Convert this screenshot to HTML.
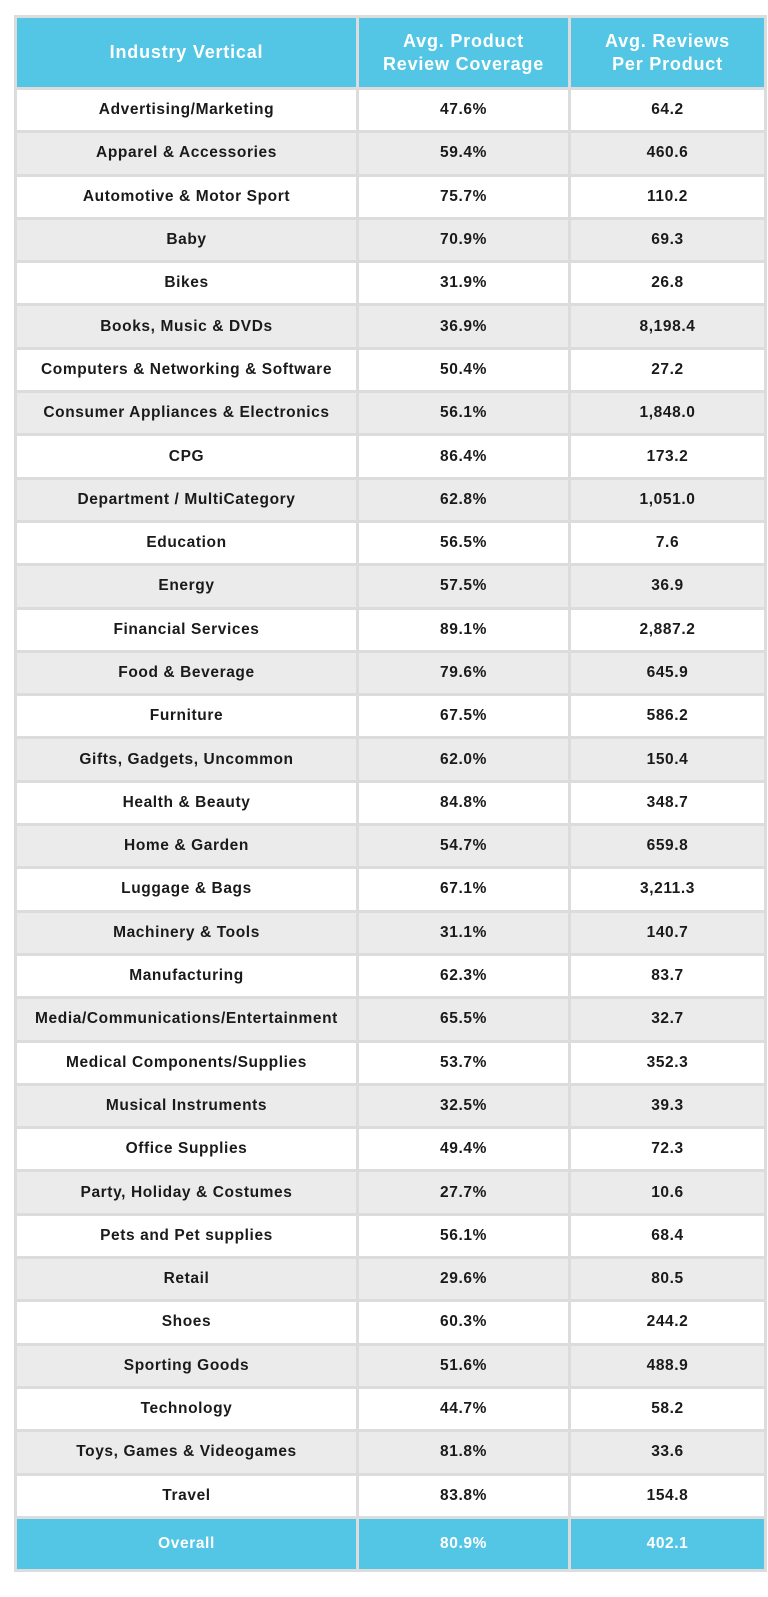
<!DOCTYPE html>
<html><head><meta charset="utf-8"><style>
html,body{margin:0;padding:0;background:#fff;width:768px;height:1597px;overflow:hidden}
table{position:absolute;left:14px;top:15px;width:750px;border-collapse:collapse;table-layout:fixed;font-family:"Liberation Sans",sans-serif}
td,th{border:3px solid #dcdcdc;text-align:center;padding:0;font-weight:bold;font-size:15.5px;letter-spacing:0.6px;color:#1a1a1a}
th{background:#53c6e6;color:#fff;font-size:18px;letter-spacing:0.8px;height:69px;line-height:23px}
tr.r td{height:40.3px}
tr:nth-child(odd).r td{background:#ebebeb}
tr.f td{background:#53c6e6;color:#fff;height:50px}
</style></head><body>
<table>
<colgroup><col style="width:342px"><col style="width:212px"><col style="width:196px"></colgroup>
<tr><th>Industry Vertical</th><th>Avg. Product<br>Review Coverage</th><th>Avg. Reviews<br>Per Product</th></tr>
<tr class="r"><td>Advertising/Marketing</td><td>47.6%</td><td>64.2</td></tr>
<tr class="r"><td>Apparel &amp; Accessories</td><td>59.4%</td><td>460.6</td></tr>
<tr class="r"><td>Automotive &amp; Motor Sport</td><td>75.7%</td><td>110.2</td></tr>
<tr class="r"><td>Baby</td><td>70.9%</td><td>69.3</td></tr>
<tr class="r"><td>Bikes</td><td>31.9%</td><td>26.8</td></tr>
<tr class="r"><td>Books, Music &amp; DVDs</td><td>36.9%</td><td>8,198.4</td></tr>
<tr class="r"><td>Computers &amp; Networking &amp; Software</td><td>50.4%</td><td>27.2</td></tr>
<tr class="r"><td>Consumer Appliances &amp; Electronics</td><td>56.1%</td><td>1,848.0</td></tr>
<tr class="r"><td>CPG</td><td>86.4%</td><td>173.2</td></tr>
<tr class="r"><td>Department / MultiCategory</td><td>62.8%</td><td>1,051.0</td></tr>
<tr class="r"><td>Education</td><td>56.5%</td><td>7.6</td></tr>
<tr class="r"><td>Energy</td><td>57.5%</td><td>36.9</td></tr>
<tr class="r"><td>Financial Services</td><td>89.1%</td><td>2,887.2</td></tr>
<tr class="r"><td>Food &amp; Beverage</td><td>79.6%</td><td>645.9</td></tr>
<tr class="r"><td>Furniture</td><td>67.5%</td><td>586.2</td></tr>
<tr class="r"><td>Gifts, Gadgets, Uncommon</td><td>62.0%</td><td>150.4</td></tr>
<tr class="r"><td>Health &amp; Beauty</td><td>84.8%</td><td>348.7</td></tr>
<tr class="r"><td>Home &amp; Garden</td><td>54.7%</td><td>659.8</td></tr>
<tr class="r"><td>Luggage &amp; Bags</td><td>67.1%</td><td>3,211.3</td></tr>
<tr class="r"><td>Machinery &amp; Tools</td><td>31.1%</td><td>140.7</td></tr>
<tr class="r"><td>Manufacturing</td><td>62.3%</td><td>83.7</td></tr>
<tr class="r"><td>Media/Communications/Entertainment</td><td>65.5%</td><td>32.7</td></tr>
<tr class="r"><td>Medical Components/Supplies</td><td>53.7%</td><td>352.3</td></tr>
<tr class="r"><td>Musical Instruments</td><td>32.5%</td><td>39.3</td></tr>
<tr class="r"><td>Office Supplies</td><td>49.4%</td><td>72.3</td></tr>
<tr class="r"><td>Party, Holiday &amp; Costumes</td><td>27.7%</td><td>10.6</td></tr>
<tr class="r"><td>Pets and Pet supplies</td><td>56.1%</td><td>68.4</td></tr>
<tr class="r"><td>Retail</td><td>29.6%</td><td>80.5</td></tr>
<tr class="r"><td>Shoes</td><td>60.3%</td><td>244.2</td></tr>
<tr class="r"><td>Sporting Goods</td><td>51.6%</td><td>488.9</td></tr>
<tr class="r"><td>Technology</td><td>44.7%</td><td>58.2</td></tr>
<tr class="r"><td>Toys, Games &amp; Videogames</td><td>81.8%</td><td>33.6</td></tr>
<tr class="r"><td>Travel</td><td>83.8%</td><td>154.8</td></tr>
<tr class="f"><td>Overall</td><td>80.9%</td><td>402.1</td></tr>
</table>
</body></html>
